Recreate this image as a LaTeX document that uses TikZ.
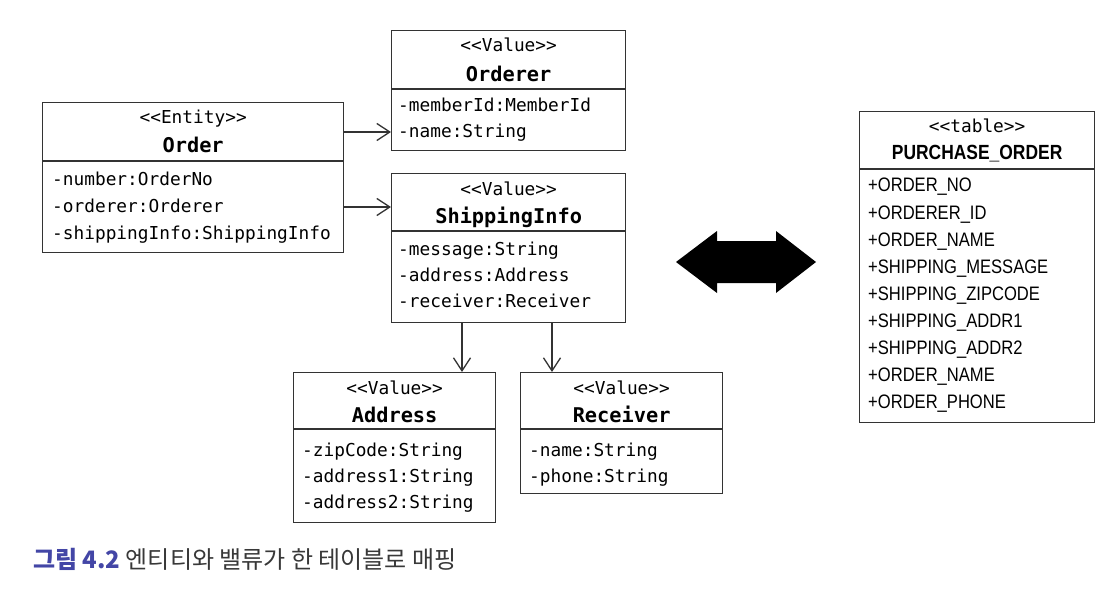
\documentclass[tikz,border=0pt]{standalone}
\usepackage{fontspec}
\setmonofont{DejaVu Sans Mono}
\newfontfamily\tablefont[FakeStretch=0.85]{Liberation Sans}
\newfontfamily\cjk{Noto Sans CJK KR}
\usetikzlibrary{arrows.meta}
\definecolor{capblue}{HTML}{4346A6}
\definecolor{capgray}{HTML}{383838}

\begin{document}
\begin{tikzpicture}[x=1pt,y=-1pt,
            umlbox/.style = {draw=black!80, line width=1.3pt,
                anchor=north west, inner sep=0pt},
            divider/.style = {draw=black!80, line width=1.3pt},
            stereo/.style = {anchor=base, inner sep=0pt,
                font=\ttfamily\fontsize{17.8}{20}\selectfont},
            title/.style = {anchor=base, inner sep=0pt,
                font=\ttfamily\bfseries\fontsize{20.3}{22}\selectfont},
            attr/.style = {anchor=base west, inner sep=0pt,
                font=\ttfamily\fontsize{17.8}{20}\selectfont},
            coltitle/.style = {anchor=base, inner sep=0pt,
                font=\tablefont\bfseries\fontsize{20.5}{22}\selectfont},
            col/.style = {anchor=base west, inner sep=0pt,
                font=\tablefont\fontsize{19.5}{22}\selectfont},
            link/.style = {draw=black!80, line width=1.3pt,
                -{Straight Barb[length=13pt,width=17pt]}}]

        \fill[white] (0,0) rectangle (1116,596);
        \useasboundingbox (0,0) rectangle (1116,596);

        % Entity Order
        \node[umlbox,minimum width=301,minimum height=150] (Order) at (42,102) {};
        \draw[divider] (Order.west |- 0,161) -- (Order.east |- 0,161);
        \node[stereo] (OrderStereo) at (Order.north |- 0,124) {<<Entity>>};
        \node[title] (OrderTitle) at (Order.north |- 0,153) {Order};
        \foreach \t [count=\i from 0] in {-number:OrderNo,-orderer:Orderer,-shippingInfo:ShippingInfo}
            \node[attr] (OrderAttr\i) at (52,186+27*\i) {\t};

        % Value Orderer
        \node[umlbox,minimum width=234,minimum height=120] (Orderer) at (391,30) {};
        \draw[divider] (Orderer.west |- 0,89) -- (Orderer.east |- 0,89);
        \node[stereo] (OrdererStereo) at (Orderer.north |- 0,52) {<<Value>>};
        \node[title] (OrdererTitle) at (Orderer.north |- 0,82) {Orderer};
        \foreach \t [count=\i from 0] in {-memberId:MemberId,-name:String}
            \node[attr] (OrdererAttr\i) at (398,112+26*\i) {\t};

        % Value ShippingInfo
        \node[umlbox,minimum width=234,minimum height=149] (ShippingInfo) at (391,173) {};
        \draw[divider] (ShippingInfo.west |- 0,231) -- (ShippingInfo.east |- 0,231);
        \node[stereo] (ShippingInfoStereo) at (ShippingInfo.north |- 0,196) {<<Value>>};
        \node[title] (ShippingInfoTitle) at (ShippingInfo.north |- 0,223) {ShippingInfo};
        \foreach \t [count=\i from 0] in {-message:String,-address:Address,-receiver:Receiver}
            \node[attr] (ShippingInfoAttr\i) at (398,255+26*\i) {\t};

        % Value Address
        \node[umlbox,minimum width=202,minimum height=150] (Address) at (293,372) {};
        \draw[divider] (Address.west |- 0,429) -- (Address.east |- 0,429);
        \node[stereo] (AddressStereo) at (Address.north |- 0,394) {<<Value>>};
        \node[title] (AddressTitle) at (Address.north |- 0,422) {Address};
        \foreach \t [count=\i from 0] in {-zipCode:String,-address1:String,-address2:String}
            \node[attr] (AddressAttr\i) at (302,456+26*\i) {\t};

        % Value Receiver
        \node[umlbox,minimum width=202,minimum height=121] (Receiver) at (520,372) {};
        \draw[divider] (Receiver.west |- 0,429) -- (Receiver.east |- 0,429);
        \node[stereo] (ReceiverStereo) at (Receiver.north |- 0,394) {<<Value>>};
        \node[title] (ReceiverTitle) at (Receiver.north |- 0,422) {Receiver};
        \foreach \t [count=\i from 0] in {-name:String,-phone:String}
            \node[attr] (ReceiverAttr\i) at (529,456+26*\i) {\t};

        % Table PURCHASE_ORDER
        \node[umlbox,minimum width=235,minimum height=311] (Purchase) at (859,111) {};
        \draw[divider] (Purchase.west |- 0,169) -- (Purchase.east |- 0,169);
        \node[stereo] (PurchaseStereo) at (Purchase.north |- 0,133) {<<table>>};
        \node[coltitle] (PurchaseTitle) at (Purchase.north |- 0,160) {PURCHASE\_ORDER};
        \foreach \t [count=\i from 0] in {+ORDER\_NO,+ORDERER\_ID,+ORDER\_NAME,
                +SHIPPING\_MESSAGE,+SHIPPING\_ZIPCODE,+SHIPPING\_ADDR1,
                +SHIPPING\_ADDR2,+ORDER\_NAME,+ORDER\_PHONE}
            \node[col] (PurchaseCol\i) at (868,192+27*\i) {\t};

        % Links
        \draw[link] (Order.east |- 0,132) -- (Orderer.west |- 0,132);
        \draw[link] (Order.east |- 0,207) -- (ShippingInfo.west |- 0,207);
        \draw[link] (ShippingInfo.south -| 462,0) -- (Address.north -| 462,0);
        \draw[link] (ShippingInfo.south -| 552,0) -- (Receiver.north -| 552,0);

        % Mapping arrow
        \fill (676,262) -- (717,231) -- (717,241) -- (776,241) -- (776,231)
            -- (816,262) -- (776,293) -- (776,283) -- (717,283) -- (717,293) -- cycle;

        % Caption
        \node[anchor=base west,inner sep=0pt,font=\cjk\fontsize{24}{26}\selectfont]
            (Caption) at (33,568)
            {\textcolor{capblue}{\bfseries 그림 4.2} \textcolor{capgray}{엔티티와 밸류가 한 테이블로 매핑}};

        \end{tikzpicture}
\end{document}
